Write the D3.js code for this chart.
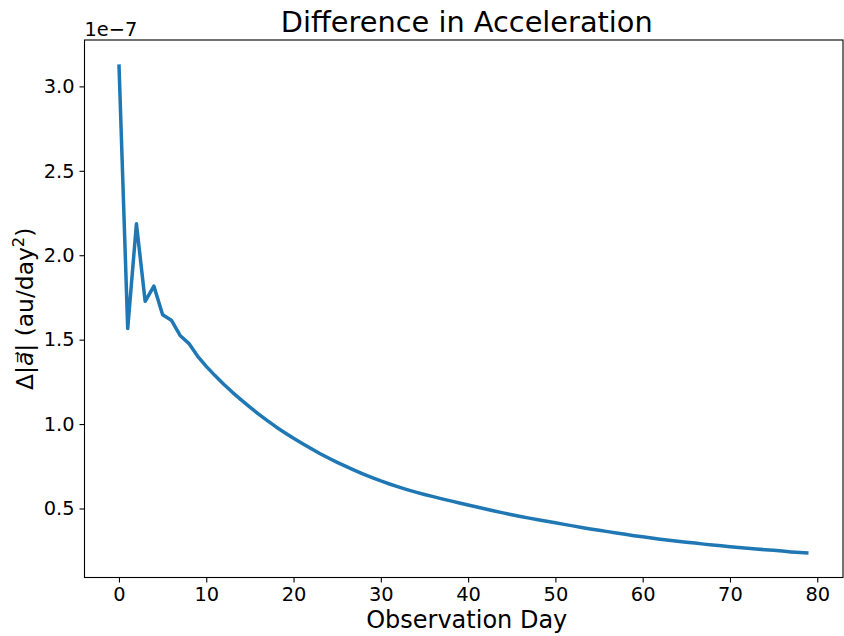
<!DOCTYPE html>
<html>
<head>
<meta charset="utf-8">
<script src="https://cdn.jsdelivr.net/npm/d3@7"></script>
<style>
  body { margin: 0; background: #fff; }
  svg { font-family: "DejaVu Sans", sans-serif; }
</style>
</head>
<body>
<svg id="chart" width="844" height="636"></svg>
<script>
'use strict';

// observation days 0..79
var days = d3.range(0, 80);

// difference in |a|, units of 1e-7 au/day^2
var deltaAccel = [
  3.130, 1.566, 2.186, 1.727, 1.817, 1.648, 1.615, 1.525, 1.478, 1.403,
  1.342, 1.287, 1.236, 1.188, 1.143, 1.100, 1.059, 1.020, 0.983, 0.949,
  0.916, 0.885, 0.855, 0.826, 0.799, 0.773, 0.749, 0.726, 0.704, 0.683,
  0.663, 0.645, 0.628, 0.612, 0.597, 0.583, 0.570, 0.557, 0.545, 0.533,
  0.521, 0.509, 0.497, 0.485, 0.474, 0.463, 0.453, 0.443, 0.433, 0.424,
  0.415, 0.406, 0.397, 0.388, 0.379, 0.371, 0.363, 0.355, 0.347, 0.339,
  0.332, 0.325, 0.318, 0.312, 0.306, 0.300, 0.295, 0.289, 0.284, 0.279,
  0.274, 0.269, 0.265, 0.260, 0.256, 0.252, 0.248, 0.243, 0.239, 0.236
];

var xTicks = [0, 10, 20, 30, 40, 50, 60, 70, 80];
var yTicks = [0.5, 1.0, 1.5, 2.0, 2.5, 3.0];

var titleText = 'Difference in Acceleration';
var xLabel = 'Observation Day';
var offsetText = '1e\u22127';

var margin = {top: 40, right: 1, bottom: 58.5, left: 84.5};
var width = 844, height = 636;

var svg = d3.select('#chart');

// matplotlib style 5% padding on both axes
var xPad = (d3.max(days) - d3.min(days)) * 0.05;
var yExt = d3.extent(deltaAccel);
var yPad = (yExt[1] - yExt[0]) * 0.05;

var x = d3.scaleLinear()
  .domain([d3.min(days) - xPad, d3.max(days) + xPad])
  .range([margin.left, width - margin.right]);

var y = d3.scaleLinear()
  .domain([yExt[0] - yPad, yExt[1] + yPad])
  .range([height - margin.bottom, margin.top]);

var line = d3.line()
  .x(function(d, i){ return x(days[i]); })
  .y(function(d){ return y(d); });

svg.append('path')
  .datum(deltaAccel)
  .attr('d', line)
  .attr('fill', 'none')
  .attr('stroke', '#1f77b4')
  .attr('stroke-width', 3.5)
  .attr('stroke-linejoin', 'round')
  .attr('stroke-linecap', 'butt');

var xAxis = d3.axisBottom(x)
  .tickValues(xTicks)
  .tickSize(5)
  .tickPadding(5)
  .tickFormat(d3.format('d'));

var yAxis = d3.axisLeft(y)
  .tickValues(yTicks)
  .tickSize(5)
  .tickPadding(5)
  .tickFormat(d3.format('.1f'));

var gx = svg.append('g')
  .attr('transform', 'translate(0,' + (height - margin.bottom) + ')')
  .call(xAxis);

var gy = svg.append('g')
  .attr('transform', 'translate(' + margin.left + ',0)')
  .call(yAxis);

[gx, gy].forEach(function(g){
  g.select('.domain').remove();
  g.selectAll('.tick line').attr('stroke', '#000').attr('stroke-width', 1.1);
  g.selectAll('.tick text')
    .attr('fill', '#000')
    .style('font-size', '19.4px')
    .style('font-family', '"DejaVu Sans", sans-serif');
});
gx.selectAll('.tick text').attr('dy', '0.71em');

// box spines
svg.append('rect')
  .attr('x', margin.left)
  .attr('y', margin.top)
  .attr('width', width - margin.right - margin.left)
  .attr('height', height - margin.bottom - margin.top)
  .attr('fill', 'none')
  .attr('stroke', '#000')
  .attr('stroke-width', 1.1);

svg.append('text')
  .attr('x', margin.left)
  .attr('y', margin.top - 4)
  .style('font-size', '19.4px')
  .text(offsetText);

svg.append('text')
  .attr('x', (margin.left + width - margin.right) / 2 + 3)
  .attr('y', margin.top - 8)
  .attr('text-anchor', 'middle')
  .style('font-size', '28.8px')
  .text(titleText);

svg.append('text')
  .attr('x', (margin.left + width - margin.right) / 2 + 3)
  .attr('y', height - 8)
  .attr('text-anchor', 'middle')
  .style('font-size', '24px')
  .text(xLabel);

// y label with vector arrow and superscript
var yl = svg.append('text')
  .attr('transform', 'translate(33,' + ((margin.top + height - margin.bottom) / 2) + ') rotate(-90)')
  .attr('text-anchor', 'middle')
  .style('font-size', '23.4px');
yl.append('tspan').text('\u0394|');
yl.append('tspan').style('font-style', 'italic').text('a\u20D7');
yl.append('tspan').text('| (au/day');
yl.append('tspan').attr('dy', -9).style('font-size', '16.4px').text('2');
yl.append('tspan').attr('dy', 9).text(')');
</script>
</body>
</html>
